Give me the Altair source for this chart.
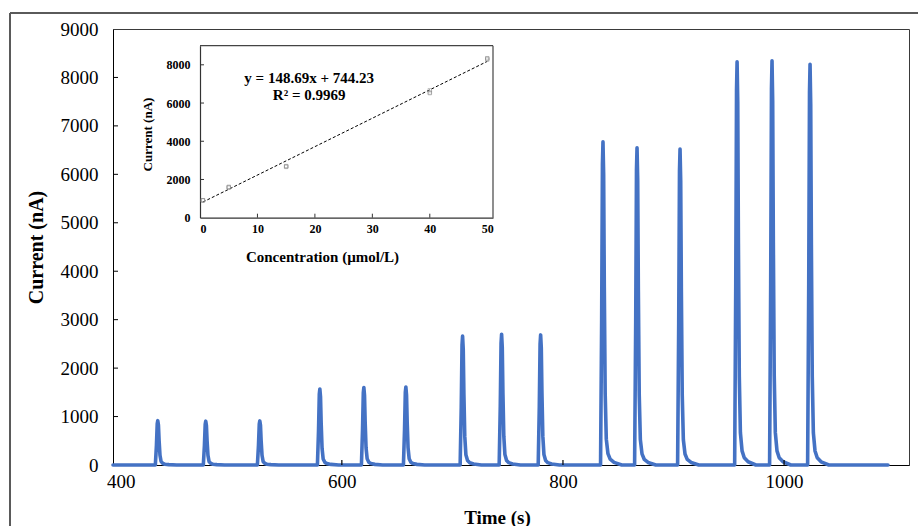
import altair as alt
import pandas as pd

# ---------------- data ----------------
# main amperometric trace: apex time (s) and apex current (nA) of each injection peak
peak_time = [433.5, 476.9, 525.8, 580.1, 619.9, 657.9, 709.2, 744.5, 779.8,
             836.2, 867.0, 905.9, 957.5, 989.1, 1023.5]
peak_current = [915, 905, 910, 1570, 1600, 1610, 2660, 2700, 2685,
                6670, 6550, 6520, 8325, 8345, 8270]
# peak profile: offset from apex (s) and fraction of apex height
profile_dt = [-2.2, -1.2, -0.5, 0.0, 0.6, 1.2, 2.0, 3.0, 4.5, 6.5, 10.0, 17.0]
profile_frac = [0.0, 0.45, 0.93, 1.0, 0.9, 0.55, 0.22, 0.08, 0.035, 0.018, 0.008, 0.0]
trace_start = 393
trace_end = 1094

# inset calibration
conc_levels = [0.5, 5, 15, 40, 50]          # µmol/L, three injections each
fit_conc = [0.5, 50]
fit_current = [818.6, 8178.7]
equation_lines = ["y = 148.69x + 744.23", "R\u00b2 = 0.9969"]
equation_conc = [19, 19]
equation_current = [7300, 6420]

main_x_ticks = [400, 600, 800, 1000]
main_y_ticks = [0, 1000, 2000, 3000, 4000, 5000, 6000, 7000, 8000, 9000]
inset_x_ticks = [0, 10, 20, 30, 40, 50]
inset_y_ticks = [0, 2000, 4000, 6000, 8000]

# ---------------- tables ----------------
rows = [(trace_start, 0.0)]
for t0, h in zip(peak_time, peak_current):
    for dt, f in zip(profile_dt, profile_frac):
        rows.append((t0 + dt, h * f))
rows.append((trace_end, 0.0))
trace = pd.DataFrame(rows, columns=["t", "i"])
trace["k"] = range(len(trace))

pts = pd.DataFrame({
    "c": [conc_levels[k // 3] for k in range(len(peak_current))],
    "v": peak_current,
})
fit = pd.DataFrame({"c": fit_conc, "v": fit_current})
eq = pd.DataFrame({"c": equation_conc, "v": equation_current, "label": equation_lines})

# ---------------- layout ----------------
FONT = "Liberation Serif"
BLUE = "#4472C4"
W, H = 796, 436
IN_L, IN_R, IN_T, IN_B = 87, 380, 16.7, 188.7

ax_main_x = alt.Axis(values=main_x_ticks, format="d", title="Time (s)", grid=False, tickSize=0,
                     labelFont=FONT, labelFontSize=19, labelColor="black", labelPadding=7,
                     domainColor="black", domainWidth=1,
                     titleFont=FONT, titleFontSize=19, titleFontWeight="bold", titleColor="black",
                     titleX=384, titleY=52, titleAlign="center", titleBaseline="middle")
ax_main_y = alt.Axis(values=main_y_ticks, format="d", title="Current (nA)", grid=False, tickSize=0,
                     labelFont=FONT, labelFontSize=19, labelColor="black", labelPadding=15,
                     domainColor="black", domainWidth=1,
                     titleFont=FONT, titleFontSize=20, titleFontWeight="bold", titleColor="black",
                     titleX=-77, titleY=218, titleAlign="center", titleBaseline="middle")

main_x = alt.X("t:Q", scale=alt.Scale(domain=[393, 1113], nice=False, zero=False), axis=ax_main_x)
main_y = alt.Y("i:Q", scale=alt.Scale(domain=[0, 9000], nice=False), axis=ax_main_y)

line = alt.Chart(trace).mark_line(color=BLUE, strokeWidth=3.6, strokeJoin="round",
                                  strokeCap="round").encode(x=main_x, y=main_y, order="k:Q")
ytick = alt.Chart(pd.DataFrame({"i": main_y_ticks[1:-1]})).mark_rule(
    color="black", strokeWidth=1).encode(y=main_y, x=alt.value(0), x2=alt.value(5))
xtick = alt.Chart(pd.DataFrame({"t": main_x_ticks[1:]})).mark_rule(
    color="black", strokeWidth=1.2).encode(x=main_x, y=alt.value(H), y2=alt.value(H - 5))
one = pd.DataFrame({"a": [0]})
frame_top = alt.Chart(one).mark_rule(color="#5a5a5a", strokeWidth=2).encode(
    x=alt.value(-103), x2=alt.value(820), y=alt.value(-16))
frame_left = alt.Chart(one).mark_rule(color="#5a5a5a", strokeWidth=2).encode(
    x=alt.value(-103), y=alt.value(-16), y2=alt.value(510))

main = alt.layer(line, ytick, xtick, frame_top, frame_left)

ax_in_x = alt.Axis(orient="bottom", offset=-(H - IN_B), values=inset_x_ticks, format="d",
                   title="Concentration (\u00b5mol/L)", grid=False, tickSize=0,
                   labelFont=FONT, labelFontSize=12, labelFontWeight="bold", labelColor="black",
                   labelPadding=6, domainColor="#333", domainWidth=1.2,
                   titleFont=FONT, titleFontSize=15, titleFontWeight="bold", titleColor="black",
                   titleX=209, titleY=39, titleAlign="center", titleBaseline="middle")
ax_in_y = alt.Axis(orient="left", offset=-IN_L, values=inset_y_ticks, format="d",
                   title="Current (nA)", grid=False, tickSize=0,
                   labelFont=FONT, labelFontSize=12, labelFontWeight="bold", labelColor="black",
                   labelPadding=10, domainColor="#333", domainWidth=1.2,
                   titleFont=FONT, titleFontSize=13, titleFontWeight="bold", titleColor="black",
                   titleX=-53, titleY=105, titleAlign="center", titleBaseline="middle")

in_x = alt.X("c:Q", scale=alt.Scale(domain=[0, 51], range=[IN_L, IN_R], nice=False, zero=False),
             axis=ax_in_x)
in_y = alt.Y("v:Q", scale=alt.Scale(domain=[0, 9000], range=[IN_B, IN_T], nice=False),
             axis=ax_in_y)

in_pts = alt.Chart(pts).mark_point(shape="square", size=12, filled=False, color="#8a8a8a",
                                   strokeWidth=0.7).encode(x=in_x, y=in_y)
in_fit = alt.Chart(fit).mark_line(color="black", strokeWidth=1, strokeDash=[3, 2]).encode(
    x=in_x, y=in_y)
in_eq = alt.Chart(eq).mark_text(font=FONT, fontSize=15, fontWeight="bold", color="black",
                                align="center", baseline="middle").encode(
    x=in_x, y=in_y, text="label:N")
in_ytick = alt.Chart(pd.DataFrame({"v": inset_y_ticks[1:]})).mark_rule(
    color="#333", strokeWidth=1).encode(y=in_y, x=alt.value(IN_L), x2=alt.value(IN_L + 4))
in_xtick = alt.Chart(pd.DataFrame({"c": inset_x_ticks[1:-1]})).mark_rule(
    color="#333", strokeWidth=1).encode(x=in_x, y=alt.value(IN_B), y2=alt.value(IN_B - 4))
in_top = alt.Chart(pd.DataFrame({"c": [0], "c2": [51], "v": [9000]})).mark_rule(
    color="#444", strokeWidth=1.2).encode(x=in_x, x2="c2:Q", y=in_y)
in_right = alt.Chart(pd.DataFrame({"c": [51], "v": [0], "v2": [9000]})).mark_rule(
    color="#444", strokeWidth=1.2).encode(x=in_x, y=in_y, y2="v2:Q")

inset = alt.layer(in_fit, in_pts, in_eq, in_ytick, in_xtick, in_top, in_right)

chart = alt.layer(main, inset).resolve_scale(x="independent", y="independent").properties(
    width=W, height=H,
    autosize=alt.AutoSizeParams(type="none"),
    padding={"left": 113, "top": 29, "right": 9, "bottom": 61},
    background="white",
).configure_view(stroke="#3a3a3a", strokeWidth=1)

chart.save("out.html", embed_options={"renderer": "svg", "actions": False})
